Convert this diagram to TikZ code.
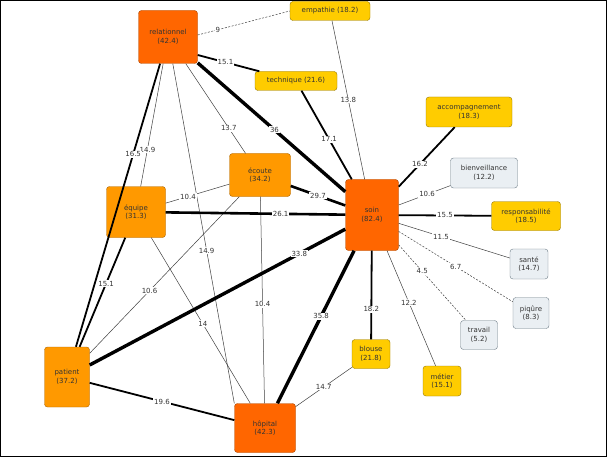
\documentclass[tikz,border=0pt]{standalone}
\usepackage{fontspec}
\setmainfont{DejaVu Sans}
\begin{document}
\begin{tikzpicture}[x=1pt,y=-1pt,
 box/.style={rounded corners=3pt,draw,align=center,inner sep=0pt,text=black!80,font=\fontsize{7}{8.5}\selectfont},
 red/.style={box,fill={rgb,255:red,255;green,102;blue,0},draw={rgb,255:red,170;green,70;blue,0}},
 org/.style={box,fill={rgb,255:red,255;green,153;blue,0},draw={rgb,255:red,170;green,100;blue,0}},
 yel/.style={box,fill={rgb,255:red,255;green,204;blue,0},draw={rgb,255:red,150;green,120;blue,0}},
 gry/.style={box,fill={rgb,255:red,234;green,239;blue,243},draw={rgb,255:red,110;green,125;blue,135}},
 lab/.style={fill=white,inner sep=0.8pt,text=black!80,font=\fontsize{7}{8}\selectfont},
 e0/.style={line width=0.5pt,draw=black!75},
 ed/.style={line width=0.5pt,draw=black!75,dash pattern=on 2pt off 1.5pt},
 e1/.style={line width=1.8pt},
 e2/.style={line width=2.6pt},
 e3/.style={line width=3.4pt}]
\useasboundingbox (0,0) rectangle (607,457);
\fill[white] (0,0) rectangle (607,457);
% nodes
\node[red,minimum width=59pt,minimum height=53pt] (rel) at (168,37) {relationnel\\(42.4)};
\node[yel,minimum width=80pt,minimum height=19pt] (emp) at (330,11) {empathie (18.2)};
\node[yel,minimum width=82pt,minimum height=19pt] (tec) at (296,81) {technique (21.6)};
\node[yel,minimum width=86pt,minimum height=30pt] (acc) at (469,112) {accompagnement\\(18.3)};
\node[gry,minimum width=67pt,minimum height=30pt] (bie) at (484,173) {bienveillance\\(12.2)};
\node[org,minimum width=61pt,minimum height=43pt] (eco) at (260,175) {écoute\\(34.2)};
\node[org,minimum width=59pt,minimum height=51pt] (equ) at (136,212) {équipe\\(31.3)};
\node[red,minimum width=53pt,minimum height=71pt] (soin) at (372,215) {soin\\(82.4)};
\node[yel,minimum width=69pt,minimum height=29pt] (res) at (526,216) {responsabilité\\(18.5)};
\node[gry,minimum width=38pt,minimum height=30pt] (san) at (529,264) {santé\\(14.7)};
\node[gry,minimum width=36pt,minimum height=31pt] (piq) at (531,313) {piqûre\\(8.3)};
\node[gry,minimum width=37pt,minimum height=29pt] (tra) at (479,335) {travail\\(5.2)};
\node[yel,minimum width=38pt,minimum height=29pt] (blo) at (371,354) {blouse\\(21.8)};
\node[yel,minimum width=38pt,minimum height=30pt] (met) at (442,381) {métier\\(15.1)};
\node[org,minimum width=45pt,minimum height=60pt] (pat) at (67,377) {patient\\(37.2)};
\node[red,minimum width=61pt,minimum height=49pt] (hop) at (265,428) {hôpital\\(42.3)};
% edges
\begin{scope}[on background layer/.style={}]
\draw[ed] (rel.east) ++(0,-2) coordinate (r1);
\draw[ed] (r1) -- node[lab,pos=0.22]{9} (emp.west);
\draw[e1] (rel.east) ++(0,18) coordinate (r2);
\draw[e1] (r2) -- node[lab,pos=0.45]{15.1} (tec);
\draw[e3] (rel) -- node[lab,pos=0.52]{36} (soin);
\draw[e0] (rel) -- node[lab,pos=0.72]{13.7} (eco);
\draw[e0] (rel) -- node[lab,pos=0.7]{14.9} (equ);
\draw[e0] (rel) -- node[lab,pos=0.55]{14.9} (hop.north west);
\draw[e1] (rel) -- node[lab,pos=0.32]{16.5} (pat);
\draw[e0] (emp) -- node[lab,pos=0.5]{13.8} (soin);
\draw[e1] (tec) -- node[lab,pos=0.55]{17.1} (soin);
\draw[e1] (acc) -- node[lab,pos=0.62]{16.2} (soin);
\draw[e0] (bie) -- node[lab,pos=0.45]{10.6} (soin);
\draw[e2] (eco) -- node[lab,pos=0.5]{29.7} (soin);
\draw[e0] (eco) -- node[lab,pos=0.65]{10.4} (equ);
\draw[e0] (eco) -- node[lab,pos=0.6]{10.6} (pat);
\draw[e0] (eco) -- node[lab,pos=0.52]{10.4} (hop);
\draw[e2] (equ) -- node[lab,pos=0.64]{26.1} (soin);
\draw[e1] (equ) -- node[lab,pos=0.42]{15.1} (pat);
\draw[e0] (equ) -- node[lab,pos=0.52]{14} (hop);
\draw[e3] (soin) -- node[lab,pos=0.18]{33.8} (pat);
\draw[e3] (soin) -- node[lab,pos=0.43]{35.8} (hop);
\draw[e1] (soin) -- node[lab,pos=0.66]{18.2} (blo);
\draw[e0] (soin) -- node[lab,pos=0.45]{12.2} (met);
\draw[e1] (soin) -- node[lab,pos=0.5]{15.5} (res);
\draw[e0] (soin) -- node[lab,pos=0.38]{11.5} (san);
\draw[ed] (soin) -- node[lab,pos=0.5]{6.7} (piq);
\draw[ed] (soin) -- node[lab,pos=0.35]{4.5} (tra);
\draw[e1] (pat) -- node[lab,pos=0.5]{19.6} (hop);
\draw[e0] (blo) -- node[lab,pos=0.5]{14.7} (hop);
\end{scope}
\draw[line width=2pt] (0,0) rectangle (607,457);
\end{tikzpicture}
\end{document}
